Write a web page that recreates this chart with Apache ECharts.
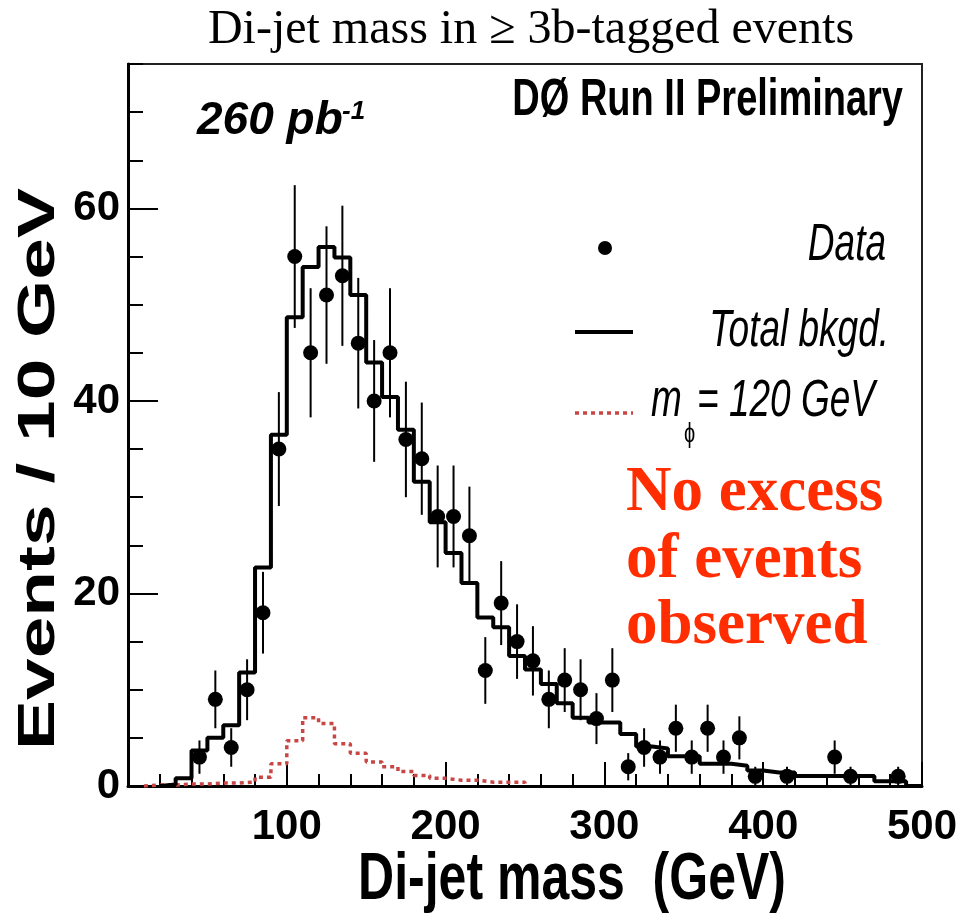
<!DOCTYPE html>
<html>
<head>
<meta charset="utf-8">
<title>Di-jet mass in ≥ 3b-tagged events</title>
<script src="https://cdn.jsdelivr.net/npm/echarts@6/dist/echarts.min.js"></script>
<style>
    html, body {margin: 0; padding: 0; background: #fff;}
    #chart {width: 969px; height: 913px;}
</style>
</head>
<body>
<div id="chart"></div>
<script>
// binning of the histograms, GeV
const binWidth = 10;

// total background, bins from 20 GeV up to 500 GeV
const bkgFirstEdge = 20;
const bkgCounts = [
    0.15, 0.8, 3.7, 5.0, 6.3, 11.8, 22.7, 36.5, 48.7, 53.9,
    56.0, 54.9, 51.0, 44.0, 40.4, 37.0, 31.6, 27.4, 24.2, 21.1,
    17.5, 16.5, 13.5, 12.1, 10.6, 8.6, 7.1, 6.6, 6.6, 5.4,
    4.1, 3.9, 3.1, 3.1, 2.3, 2.3, 2.1, 1.6, 1.4, 1.4,
    1.05, 1.05, 1.05, 1.05, 1.05, 0.5, 0.5, 0
];

// signal m_phi = 120 GeV, bins from 10 GeV up to 250 GeV
const sigFirstEdge = 10;
const sigCounts = [
    0.1, 0.1, 0.2, 0.2, 0.3, 0.3, 0.4, 0.9, 2.3, 4.7,
    7.1, 6.5, 4.4, 3.4, 2.5, 2.0, 1.5, 1.1, 0.8, 0.6,
    0.6, 0.4, 0.4, 0.4
];

// data points (bin centres, GeV) and counts
const dataMass = [
    45, 55, 65, 75, 85, 95, 105, 115, 125, 135,
    145, 155, 165, 175, 185, 195, 205, 215, 225, 235,
    245, 255, 265, 275, 285, 295, 305, 315, 325, 335,
    345, 355, 365, 375, 385, 395, 415, 445, 455, 485
];
const dataCounts = [
    3, 9, 4, 10, 18, 35, 55, 45, 51, 53,
    46, 40, 45, 36, 34, 28, 28, 26, 12, 19,
    15, 13, 9, 11, 10, 7, 11, 2, 4, 3,
    6, 3, 6, 3, 5, 1, 1, 3, 1, 1
];

const xRange = [0, 500];
const yRange = [0, 75];

const sans = 'Liberation Sans';
const serif = 'Liberation Serif';
const red = '#ff2d00';
const sigColor = 'rgb(200,70,70)';

// histogram outline as step points (step: 'end')
function histPoints(firstEdge, counts) {
    let pts = [[firstEdge, 0]];
    counts.forEach((c, i) => pts.push([firstEdge + i * binWidth, c]));
    pts.push([firstEdge + counts.length * binWidth, 0]);
    return pts;
}

let chart = echarts.init(document.getElementById('chart'), null, {renderer: 'canvas'});

let option = {
    animation: false,
    backgroundColor: '#fff',
    grid: {
        left: 128, right: 47, top: 64, bottom: 127,
        show: true, borderColor: '#222', borderWidth: 2
    },
    xAxis: {
        type: 'value', min: xRange[0], max: xRange[1], interval: 100,
        axisLine: {show: true, onZero: false, lineStyle: {color: '#000', width: 3}},
        axisTick: {show: true, inside: true, length: 24, lineStyle: {color: '#000', width: 2}},
        minorTick: {show: true, splitNumber: 5, length: 12, lineStyle: {color: '#000', width: 2}},
        splitLine: {show: false},
        axisLabel: {
            showMinLabel: false, margin: 20, color: '#000',
            fontFamily: sans, fontWeight: 'bold', fontSize: 42
        }
    },
    yAxis: [{
        type: 'value', min: yRange[0], max: yRange[1], interval: 20, position: 'left',
        axisLine: {show: true, onZero: false, lineStyle: {color: '#000', width: 3}},
        axisTick: {show: true, inside: true, length: 30, lineStyle: {color: '#000', width: 2}},
        splitLine: {show: false},
        axisLabel: {
            showMaxLabel: false, margin: 8, color: '#000',
            fontFamily: sans, fontWeight: 'bold', fontSize: 42
        }
    }, {
        // minor ticks every 5 events
        type: 'value', min: yRange[0], max: yRange[1], interval: 5, position: 'left',
        axisLine: {show: false},
        axisTick: {show: true, inside: true, length: 15, lineStyle: {color: '#000', width: 2}},
        splitLine: {show: false},
        axisLabel: {show: false}
    }],
    series: [{
        name: 'signal',
        type: 'line', step: 'end', showSymbol: false, z: 2,
        data: histPoints(sigFirstEdge, sigCounts),
        lineStyle: {color: sigColor, width: 3.5, type: [4, 4]}
    }, {
        name: 'bkgd',
        type: 'line', step: 'end', showSymbol: false, z: 3,
        data: histPoints(bkgFirstEdge, bkgCounts),
        lineStyle: {color: '#000', width: 4}
    }, {
        name: 'errors',
        type: 'custom', z: 4,
        data: dataMass.map((m, i) => [m, dataCounts[i], Math.sqrt(dataCounts[i])]),
        renderItem: (params, api) => {
            let x = api.value(0), y = api.value(1), e = api.value(2);
            let hi = api.coord([x, y + e]);
            let lo = api.coord([x, Math.max(y - e, 0)]);
            return {
                type: 'line',
                shape: {x1: hi[0], y1: hi[1], x2: lo[0], y2: lo[1]},
                style: {stroke: '#000', lineWidth: 2}
            };
        }
    }, {
        name: 'Data',
        type: 'scatter', z: 5, symbol: 'circle', symbolSize: 15,
        data: dataMass.map((m, i) => [m, dataCounts[i]]),
        itemStyle: {color: '#000', opacity: 1}
    }],
    graphic: [
        {type: 'text', x: 531, y: 30, style: {
            text: 'Di-jet mass in ≥ 3b-tagged events', fontFamily: serif, fontSize: 48,
            fill: '#000', textAlign: 'center', textVerticalAlign: 'middle'}},
        {type: 'text', x: 40, y: 469, rotation: Math.PI / 2, scaleX: 1.44, style: {
            text: 'Events / 10 GeV', fontFamily: sans, fontWeight: 'bold', fontSize: 52,
            fill: '#000', textAlign: 'center', textVerticalAlign: 'middle'}},
        {type: 'text', x: 572, y: 880, scaleY: 1.35, style: {
            text: 'Di-jet mass  (GeV)', fontFamily: sans, fontWeight: 'bold', fontSize: 50,
            fill: '#000', textAlign: 'center', textVerticalAlign: 'middle'}},
        {type: 'text', x: 903, y: 101, scaleY: 1.35, style: {
            text: 'DØ Run II Preliminary', fontFamily: sans, fontWeight: 'bold', fontSize: 38,
            fill: '#000', textAlign: 'right', textVerticalAlign: 'middle'}},
        {type: 'text', x: 197, y: 121, style: {
            text: '260 pb', fontFamily: sans, fontWeight: 'bold', fontStyle: 'italic', fontSize: 46,
            fill: '#000', textAlign: 'left', textVerticalAlign: 'middle'}},
        {type: 'text', x: 342, y: 112, style: {
            text: '-1', fontFamily: sans, fontWeight: 'bold', fontStyle: 'italic', fontSize: 26,
            fill: '#000', textAlign: 'left', textVerticalAlign: 'middle'}},

        // legend
        {type: 'circle', shape: {cx: 605, cy: 248, r: 7}, style: {fill: '#000'}},
        {type: 'text', x: 886, y: 246, scaleY: 1.4, style: {
            text: 'Data', fontFamily: sans, fontStyle: 'italic', fontSize: 37,
            fill: '#000', textAlign: 'right', textVerticalAlign: 'middle'}},
        {type: 'line', shape: {x1: 575, y1: 332, x2: 633, y2: 332}, style: {stroke: '#000', lineWidth: 4}},
        {type: 'text', x: 889, y: 332, scaleY: 1.4, style: {
            text: 'Total bkgd.', fontFamily: sans, fontStyle: 'italic', fontSize: 37,
            fill: '#000', textAlign: 'right', textVerticalAlign: 'middle'}},
        {type: 'line', shape: {x1: 575, y1: 413, x2: 633, y2: 413},
            style: {stroke: sigColor, lineWidth: 3.5, lineDash: [4, 4]}},
        {type: 'text', x: 651, y: 402, scaleY: 1.4, style: {
            text: 'm', fontFamily: sans, fontStyle: 'italic', fontSize: 37,
            fill: '#000', textAlign: 'left', textVerticalAlign: 'middle'}},
        {type: 'text', x: 684, y: 434, scaleY: 1.4, style: {
            text: 'ϕ', fontFamily: sans, fontSize: 20,
            fill: '#000', textAlign: 'left', textVerticalAlign: 'middle'}},
        {type: 'text', x: 697, y: 402, scaleY: 1.4, style: {
            text: '= 120 GeV', fontFamily: sans, fontStyle: 'italic', fontSize: 37,
            fill: '#000', textAlign: 'left', textVerticalAlign: 'middle'}},

        // slide annotation
        {type: 'text', x: 626, y: 494, style: {
            text: 'No excess', fontFamily: serif, fontWeight: 'bold', fontSize: 63,
            fill: red, textAlign: 'left', textVerticalAlign: 'middle'}},
        {type: 'text', x: 626, y: 561, style: {
            text: 'of events', fontFamily: serif, fontWeight: 'bold', fontSize: 63,
            fill: red, textAlign: 'left', textVerticalAlign: 'middle'}},
        {type: 'text', x: 626, y: 627, style: {
            text: 'observed', fontFamily: serif, fontWeight: 'bold', fontSize: 63,
            fill: red, textAlign: 'left', textVerticalAlign: 'middle'}}
    ]
};

chart.setOption(option);
</script>
</body>
</html>
